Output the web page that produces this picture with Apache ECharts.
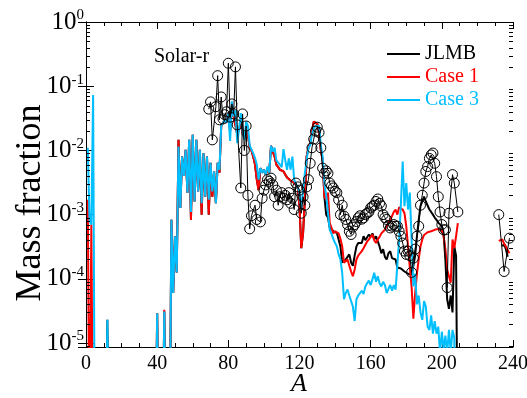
<!DOCTYPE html>
<html>
<head>
<meta charset="utf-8">
<script src="https://cdn.jsdelivr.net/npm/echarts@6.0.0/dist/echarts.min.js"></script>
<style>
  html, body { margin: 0; padding: 0; background: #fff; }
  #chart { width: 527px; height: 398px; }
</style>
</head>
<body>
<div id="chart"></div>
<script>
  // mass number A vs mass fraction
  const seriesNames = ['JLMB', 'Case 1', 'Case 3']
  const yMin = 8.67e-6
  const yMax = 1
  const xTicks = [0, 40, 80, 120, 160, 200, 240]

  // Case 3 (cyan)
  const case3 = [
    [1, 1.1e-2], [2, 8e-4], [3, 7e-4], [4, 7.3e-2], [5, 1e-7], [11, 1e-7], [12, 2.3e-5], [13, 1e-7],
    [39, 1e-7], [40, 2.9e-5], [41, 1e-7], [43, 1e-7], [44, 3.1e-5], [45, 1e-7], [47, 1e-7],
    [48, 8.3e-4], [49, 6e-5], [50, 4.6e-4], [51, 1.26e-4], [52, 1.15e-2], [53, 1.27e-3], [54, 8e-3],
    [55, 4e-3], [56, 1.02e-2], [57, 2.2e-3], [58, 1.46e-2], [59, 1.1e-3], [60, 1.75e-2], [61, 1.6e-3],
    [62, 1.46e-2], [63, 2.3e-3], [64, 1.02e-2], [65, 1.5e-3], [66, 9e-3], [67, 1.9e-3], [68, 8e-3],
    [69, 1.7e-3], [70, 6.4e-3], [71, 2.3e-3], [72, 4.7e-3], [73, 1.5e-3], [74, 6.4e-3], [75, 5e-3],
    [76, 2.4e-2], [77, 2.5e-2], [78, 3e-2], [79, 2.7e-2], [80, 3.8e-2], [81, 1.4e-2], [82, 5.8e-2],
    [83, 3.4e-2], [84, 4.2e-2], [85, 1.3e-2], [86, 2.1e-2], [87, 3.8e-2], [88, 2e-2], [89, 1.47e-2],
    [90, 2.8e-2], [91, 2.4e-2], [92, 1.2e-2], [93, 1.15e-2], [94, 9e-3], [95, 7.6e-3], [96, 6e-3],
    [97, 3.5e-3], [98, 5.3e-3], [99, 4.5e-3], [100, 5e-3], [101, 4.2e-3], [102, 5.6e-3], [103, 4.5e-3],
    [104, 1.18e-2], [105, 9.6e-3], [106, 1.1e-2], [107, 7e-3], [108, 7.5e-3], [109, 6e-3], [110, 5.5e-3],
    [111, 1.05e-2], [112, 7e-3], [113, 5e-3], [114, 7.5e-3], [115, 5e-3], [116, 8e-3], [117, 3.5e-3],
    [118, 3e-3], [119, 2.7e-3], [120, 2.2e-3], [121, 1.2e-3], [122, 2.4e-3], [123, 4.4e-3], [124, 7e-3],
    [125, 1.1e-2], [126, 1.2e-2], [127, 1.8e-2], [128, 2.2e-2], [129, 2.4e-2], [130, 2.4e-2], [131, 2.4e-2],
    [132, 1.2e-2], [133, 8e-3], [134, 3e-3], [135, 2e-3], [136, 2.1e-3], [137, 5.8e-4], [138, 5e-4],
    [139, 4.2e-4], [140, 3.6e-4], [141, 3.2e-4], [142, 2.4e-4], [143, 2e-4], [144, 1.24e-4], [145, 4.8e-5],
    [146, 6e-5], [147, 6.8e-5], [148, 5.5e-5], [149, 4.5e-5], [150, 3.7e-5], [151, 2.2e-5], [152, 4.8e-5],
    [153, 5.5e-5], [154, 6e-5], [155, 6.5e-5], [156, 5.8e-5], [157, 7.6e-5], [158, 8.5e-5], [159, 9.4e-5],
    [160, 8e-5], [161, 9.8e-5], [162, 1.24e-4], [163, 9e-5], [164, 1.1e-4], [165, 8.5e-5], [166, 7.6e-5],
    [167, 9e-5], [168, 8e-5], [169, 6e-5], [170, 7e-5], [171, 8e-5], [172, 6.5e-5], [173, 8e-5],
    [174, 6.8e-5], [175, 7e-5], [176, 4e-4], [177, 1.5e-3], [178, 6.7e-3], [179, 1.35e-3], [180, 3.1e-3],
    [181, 1.2e-3], [182, 2.2e-3], [183, 4.1e-4], [184, 7.6e-5], [185, 1.2e-4], [186, 4e-5], [187, 5.5e-5],
    [188, 3e-5], [189, 2.3e-5], [190, 4.5e-5], [191, 3.7e-5], [192, 1.8e-5], [193, 1.6e-5], [194, 2.7e-5],
    [195, 1.4e-5], [196, 2.2e-5], [197, 1.4e-5], [198, 1.8e-5], [199, 7e-6], [200, 1.5e-5], [201, 8e-6],
    [202, 1.3e-5], [203, 7e-6], [204, 1.6e-5], [205, 7e-6], [206, 1.6e-5], [207, 1.2e-5], [208, 1e-7]
  ]

  // Case 1 (red)
  const case1 = [
    [1, 1.7e-3], [2, 1e-7], [3, 7e-4], [4, 1e-7],
    [39, 1e-7], [40, 2.9e-5], [41, 1e-7], [43, 1e-7], [44, 3.3e-5], [45, 1e-7], [47, 1e-7],
    [48, 8.3e-4], [49, 6e-5], [50, 4.6e-4], [51, 1.26e-4], [52, 1.46e-2], [53, 1.27e-3], [54, 8e-3],
    [55, 4e-3], [56, 1.02e-2], [57, 2.2e-3], [58, 1.46e-2], [59, 8.3e-4], [60, 1.75e-2], [61, 1.6e-3],
    [62, 1.46e-2], [63, 2.3e-3], [64, 1.02e-2], [65, 1e-3], [66, 9e-3], [67, 1.9e-3], [68, 8e-3],
    [69, 1e-3], [70, 6.4e-3], [71, 1.9e-3], [72, 4.7e-3], [73, 1.5e-3], [74, 6.4e-3], [75, 4.5e-3],
    [76, 2.4e-2], [77, 2.5e-2], [78, 3e-2], [79, 2.7e-2], [80, 3.8e-2], [81, 2e-2], [82, 5e-2],
    [83, 3.4e-2], [84, 3.6e-2], [85, 1.8e-2], [86, 2.1e-2], [87, 2.8e-2], [88, 1.8e-2], [89, 1.6e-2],
    [90, 2e-2], [91, 1.8e-2], [92, 1.1e-2], [93, 1e-2], [94, 8e-3], [95, 6e-3], [96, 3.5e-3],
    [97, 2.4e-3], [98, 5.3e-3], [99, 4.5e-3], [100, 5e-3], [101, 4.2e-3], [102, 5e-3], [103, 4.5e-3],
    [104, 1.18e-2], [105, 9.6e-3], [106, 8e-3], [107, 6e-3], [108, 5.5e-3], [109, 5e-3], [110, 4.7e-3],
    [111, 4.7e-3], [112, 4.2e-3], [113, 3.8e-3], [114, 3.7e-3], [115, 3.4e-3], [116, 3.5e-3], [117, 3.1e-3],
    [118, 2.9e-3], [119, 2.7e-3], [120, 1.35e-3], [121, 3e-4], [122, 5.1e-4], [123, 1.7e-3], [124, 8e-3],
    [125, 1.1e-2], [126, 1.3e-2], [127, 2e-2], [128, 2.8e-2], [129, 2.8e-2], [130, 2.6e-2], [131, 1.86e-2],
    [132, 1e-2], [133, 7.1e-3], [134, 1.9e-3], [135, 1.7e-3], [136, 2.2e-3], [137, 7.4e-4], [138, 6.2e-4],
    [139, 5.1e-4], [140, 5.5e-4], [141, 5.8e-4], [142, 5.1e-4], [143, 4.2e-4], [144, 3.2e-4], [145, 1.78e-4],
    [146, 1.7e-4], [147, 2e-4], [148, 1.6e-4], [149, 1.3e-4], [150, 1.1e-4], [151, 1.4e-4], [152, 2e-4],
    [153, 2.3e-4], [154, 2.5e-4], [155, 2.7e-4], [156, 3e-4], [157, 3.2e-4], [158, 3.8e-4], [159, 4.1e-4],
    [160, 4.5e-4], [161, 4.9e-4], [162, 4e-4], [163, 3.6e-4], [164, 4.1e-4], [165, 4.5e-4], [166, 5.1e-4],
    [167, 5.3e-4], [168, 5.8e-4], [169, 6.6e-4], [170, 7e-4], [171, 8.3e-4], [172, 9.5e-4], [173, 1.1e-3],
    [174, 1.2e-3], [175, 1e-3], [176, 1.3e-3], [177, 1.25e-3], [178, 1.2e-3], [179, 1.05e-3], [180, 6.6e-4],
    [181, 3.2e-4], [182, 1.5e-4], [183, 7.6e-5], [184, 2.4e-5], [185, 6e-5], [186, 1.2e-4], [187, 2e-4],
    [188, 3.2e-4], [189, 4.1e-4], [190, 4.8e-4], [191, 5.1e-4], [192, 5.3e-4], [193, 5.4e-4], [194, 5.5e-4],
    [195, 5.6e-4], [196, 5.8e-4], [197, 6.2e-4], [198, 6e-4], [199, 5.8e-4], [200, 5.6e-4], [201, 4.6e-4],
    [202, 2.9e-4], [203, 1.4e-4], [204, 1.4e-4], [205, 8.7e-5], [206, 4.1e-4], [207, 3e-4], [208, 4.6e-4],
    [209, 7.4e-4], [220, '-'],
    [232, 3.9e-4], [233, 4e-4], [234, 4.1e-4], [235, 3.5e-4], [236, 3.2e-4], [237, 2.8e-4], [238, 2.5e-4]
  ]

  // JLMB (black line): below A=133 it lies under the Case 1 curve
  const jlmbLow = [
    [11, 1e-7], [12, 2.3e-5], [13, 1e-7], [39, 1e-7], [40, 2.9e-5], [41, 1e-7],
    [43, 1e-7], [44, 3.1e-5], [45, 1e-7], [47, 1e-7]
  ]
  const jlmbHigh = [
    [133, 7e-3], [134, 1.9e-3], [135, 1e-3], [136, 9e-4], [137, 6.3e-4], [138, 6e-4], [139, 5.5e-4],
    [140, 5.4e-4], [141, 5.2e-4], [142, 5e-4], [143, 3.2e-4], [144, 1.8e-4], [145, 1.8e-4], [146, 2e-4],
    [147, 2.2e-4], [148, 2.4e-4], [149, 1.8e-4], [150, 1.6e-4], [151, 2.3e-4], [152, 3.2e-4], [153, 3.6e-4],
    [154, 3.8e-4], [155, 3.6e-4], [156, 4.6e-4], [157, 4e-4], [158, 4.1e-4], [159, 4.9e-4], [160, 4.5e-4],
    [161, 5.1e-4], [162, 4.1e-4], [163, 4.6e-4], [164, 4.4e-4], [165, 3.2e-4], [166, 2.5e-4], [167, 2.9e-4],
    [168, 2.2e-4], [169, 2e-4], [170, 2.5e-4], [171, 2.7e-4], [172, 2.1e-4], [173, 2.1e-4], [174, 2e-4],
    [175, 1.5e-4], [176, 1.4e-4], [177, 1.45e-4], [178, 1.5e-4], [179, 1.3e-4], [180, 1.3e-4], [181, 1.2e-4],
    [182, 1.2e-4], [183, 1.15e-4], [184, 1.6e-4], [185, 2.3e-4], [186, 4.6e-4], [187, 8.3e-4], [188, 1.35e-3],
    [189, 1.6e-3], [190, 1.9e-3], [191, 1.6e-3], [192, 1.5e-3], [193, 1.2e-3], [194, 1.1e-3], [195, 1e-3],
    [196, 9e-4], [197, 8.3e-4], [198, 7.5e-4], [199, 7e-4], [200, 6.6e-4], [201, 5e-4], [202, 2e-4],
    [203, 4.8e-5], [204, 3.4e-5], [205, 5.5e-5], [206, 3e-5], [207, 3.2e-4], [208, 2.3e-4], [209, 1e-7],
    [220, '-'], [234, 3.2e-4], [235, 3.5e-4], [236, 2.9e-4], [237, 2.2e-4]
  ]

  // Solar-r abundances (open circles)
  const solarR = [
    [69, 4.4e-2], [70, 5.7e-2], [71, 1.46e-2], [73, 4.8e-2], [74, 0.146], [75, 3e-2], [76, 6.8e-2],
    [77, 3.1e-2], [78, 3.6e-2], [79, 4e-2], [80, 0.228], [81, 3.3e-2], [82, 5.3e-2], [83, 3.7e-2],
    [84, 0.2], [85, 2.5e-2], [87, 2.6e-3], [88, 3.7e-2], [89, 1e-2], [90, 2.4e-2], [91, 2e-3],
    [92, 6e-4], [93, 9.6e-4], [95, 1.4e-3], [96, 8.4e-4], [98, 7.7e-4], [99, 1.8e-3], [100, 2.4e-3],
    [101, 2.9e-3], [102, 3.5e-3], [103, 3.3e-3], [104, 3.7e-3], [105, 2.9e-3], [106, 1.9e-3], [107, 2.4e-3],
    [108, 1.4e-3], [109, 1.9e-3], [110, 2.2e-3], [111, 1.8e-3], [112, 2e-3], [113, 1.7e-3], [114, 2.2e-3],
    [115, 1.5e-3], [116, 1.8e-3], [117, 1.2e-3], [118, 3.1e-3], [119, 2.7e-3], [120, 2.4e-3], [121, 1.05e-3],
    [122, 1.9e-3], [123, 1.4e-3], [124, 2.7e-3], [125, 3.5e-3], [126, 6.3e-3], [127, 1.1e-2], [128, 1.5e-2],
    [129, 2e-2], [130, 2.3e-2], [131, 1.9e-2], [132, 1.1e-2], [133, 5.3e-3], [134, 4.4e-3], [135, 4.8e-3],
    [136, 4.4e-3], [137, 3.1e-3], [138, 2.8e-3], [139, 2.6e-3], [140, 2.3e-3], [141, 2.2e-3], [142, 1.7e-3],
    [143, 1e-3], [144, 1.4e-3], [145, 9.5e-4], [146, 8.4e-4], [147, 7e-4], [148, 5.5e-4], [149, 4.9e-4],
    [150, 6.4e-4], [151, 7e-4], [152, 7.8e-4], [153, 8.9e-4], [154, 9.6e-4], [155, 8.5e-4], [156, 8.9e-4],
    [157, 1e-3], [158, 1.05e-3], [159, 1.1e-3], [160, 1.27e-3], [161, 1.35e-3], [162, 1.4e-3], [163, 1.6e-3],
    [164, 1.75e-3], [165, 1.5e-3], [166, 1.36e-3], [167, 1e-3], [168, 9e-4], [169, 8.4e-4], [170, 6.8e-4],
    [171, 6.2e-4], [172, 6.6e-4], [173, 7e-4], [174, 6.6e-4], [175, 6.6e-4], [176, 5.5e-4], [177, 4.6e-4],
    [178, 3.6e-4], [179, 2.7e-4], [180, 2.4e-4], [181, 2.7e-4], [182, 2.3e-4], [183, 1.26e-4], [184, 2.1e-4],
    [185, 2.9e-4], [186, 4.6e-4], [187, 6.6e-4], [188, 1.4e-3], [189, 2e-3], [190, 3.1e-3], [191, 4.7e-3],
    [192, 5.6e-3], [193, 7.5e-3], [194, 8.5e-3], [195, 9.1e-3], [196, 6.3e-3], [197, 3.9e-3], [198, 1.9e-3],
    [199, 1.1e-3], [200, 7e-4], [201, 5.8e-4], [202, 5.8e-4], [203, 7.3e-5], [204, 1.05e-3], [206, 4.2e-3],
    [207, 3.1e-3], [209, 1.1e-3], [220, '-'], [232, 1e-3], [235, 1.3e-4], [238, 4.3e-4]
  ]

  // minor tick marks of the log axis (2..9 x 10^n)
  const minorMantissas = [2, 3, 4, 5, 6, 7, 8, 9]
  const decades = [-6, -5, -4, -3, -2, -1]

  const serif = "'Liberation Serif', 'Times New Roman', Times, serif"
  const colors = ['#000000', '#ff0000', '#00bfff']

  const jlmb = jlmbLow
    .concat(case1.filter(function (p) { return p[0] >= 48 && p[0] <= 132 }))
    .concat(jlmbHigh)

  const minorTickData = []
  decades.forEach(function (d) {
    minorMantissas.forEach(function (m) {
      const v = m * Math.pow(10, d)
      if (v >= yMin && v < yMax) minorTickData.push([0, v])
    })
  })

  function logLabel (v) {
    const e = Math.log10(v)
    const r = Math.round(e)
    if (Math.abs(e - r) > 1e-6) return ''
    return '{b|10}{s|' + r + '}'
  }

  const chart = echarts.init(document.getElementById('chart'), null, { renderer: 'canvas' })

  const axisLine = { show: true, lineStyle: { color: '#000', width: 1 } }

  const option = {
    animation: false,
    backgroundColor: '#fff',
    title: {
      text: 'Solar-r',
      left: 149,
      top: 42,
      textStyle: { fontFamily: serif, fontSize: 20, fontWeight: 'normal', color: '#000' }
    },
    // axis titles, placed by hand as in the figure
    graphic: [
      {
        type: 'text',
        x: 31,
        y: 203,
        rotation: Math.PI / 2,
        style: {
          text: 'Mass fraction',
          fontFamily: serif,
          fontSize: 36,
          fill: '#000',
          align: 'center',
          verticalAlign: 'middle'
        }
      },
      {
        type: 'text',
        x: 299,
        y: 384,
        style: {
          text: 'A',
          fontFamily: serif,
          fontSize: 26,
          fontStyle: 'italic',
          fill: '#000',
          align: 'center',
          verticalAlign: 'middle'
        }
      }
    ],
    legend: {
      orient: 'vertical',
      left: 382,
      top: 39,
      icon: 'rect',
      itemWidth: 33,
      itemHeight: 2,
      itemGap: 3,
      textStyle: { fontFamily: serif, fontSize: 20, lineHeight: 20 },
      data: [
        { name: seriesNames[0], textStyle: { color: colors[0] } },
        { name: seriesNames[1], textStyle: { color: colors[1] } },
        { name: seriesNames[2], textStyle: { color: colors[2] } }
      ]
    },
    grid: { left: 86, right: 14, top: 22, bottom: 51, outerBoundsMode: 'none' },
    xAxis: [
      {
        type: 'value',
        position: 'bottom',
        min: xTicks[0],
        max: xTicks[xTicks.length - 1],
        interval: 40,
        axisLine: axisLine,
        axisTick: { inside: true, length: 7, lineStyle: { color: '#000' } },
        minorTick: { show: true, splitNumber: 4, length: 4, lineStyle: { color: '#000' } },
        splitLine: { show: false },
        axisLabel: { fontFamily: serif, fontSize: 20, color: '#000', margin: 7 }
      },
      {
        type: 'value',
        position: 'top',
        min: xTicks[0],
        max: xTicks[xTicks.length - 1],
        interval: 40,
        axisLine: axisLine,
        axisTick: { inside: true, length: 7, lineStyle: { color: '#000' } },
        minorTick: { show: true, splitNumber: 4, length: 4, lineStyle: { color: '#000' } },
        splitLine: { show: false },
        axisLabel: { show: false }
      }
    ],
    yAxis: [
      {
        type: 'log',
        logBase: 10,
        position: 'left',
        min: yMin,
        max: yMax,
        axisLine: axisLine,
        axisTick: { inside: true, length: 8, lineStyle: { color: '#000' } },
        splitLine: { show: false },
        axisLabel: {
          margin: 2,
          formatter: logLabel,
          rich: {
            b: { fontFamily: serif, fontSize: 25, color: '#000' },
            s: { fontFamily: serif, fontSize: 15, color: '#000', padding: [0, 0, 13, 0] }
          }
        }
      },
      {
        type: 'log',
        logBase: 10,
        position: 'right',
        min: yMin,
        max: yMax,
        axisLine: axisLine,
        axisTick: { inside: true, length: 8, lineStyle: { color: '#000' } },
        splitLine: { show: false },
        axisLabel: { show: false }
      }
    ],
    series: [
      {
        name: seriesNames[0],
        type: 'line',
        data: jlmb,
        symbol: 'none',
        color: colors[0],
        lineStyle: { color: colors[0], width: 2 },
        z: 2
      },
      {
        name: seriesNames[1],
        type: 'line',
        data: case1,
        symbol: 'none',
        color: colors[1],
        lineStyle: { color: colors[1], width: 2 },
        z: 3
      },
      {
        name: seriesNames[2],
        type: 'line',
        data: case3,
        symbol: 'none',
        color: colors[2],
        lineStyle: { color: colors[2], width: 2 },
        z: 4
      },
      {
        name: 'Solar-r',
        type: 'line',
        data: solarR,
        symbol: 'circle',
        symbolSize: 10,
        itemStyle: { color: 'rgba(0,0,0,0)', borderColor: '#000', borderWidth: 1 },
        lineStyle: { color: '#000', width: 1 },
        z: 5
      },
      {
        name: 'minorTicks',
        type: 'custom',
        data: minorTickData,
        encode: { x: 0, y: 1 },
        silent: true,
        clip: false,
        z: 6,
        renderItem: function (params, api) {
          const cs = params.coordSys
          const y = Math.round(api.coord([0, api.value(1)])[1]) + 0.5
          const style = { stroke: '#000', lineWidth: 1 }
          return {
            type: 'group',
            children: [
              { type: 'line', shape: { x1: cs.x, y1: y, x2: cs.x + 4, y2: y }, style: style },
              { type: 'line', shape: { x1: cs.x + cs.width - 4, y1: y, x2: cs.x + cs.width, y2: y }, style: style }
            ]
          }
        }
      }
    ]
  }

  chart.setOption(option)
</script>
</body>
</html>
